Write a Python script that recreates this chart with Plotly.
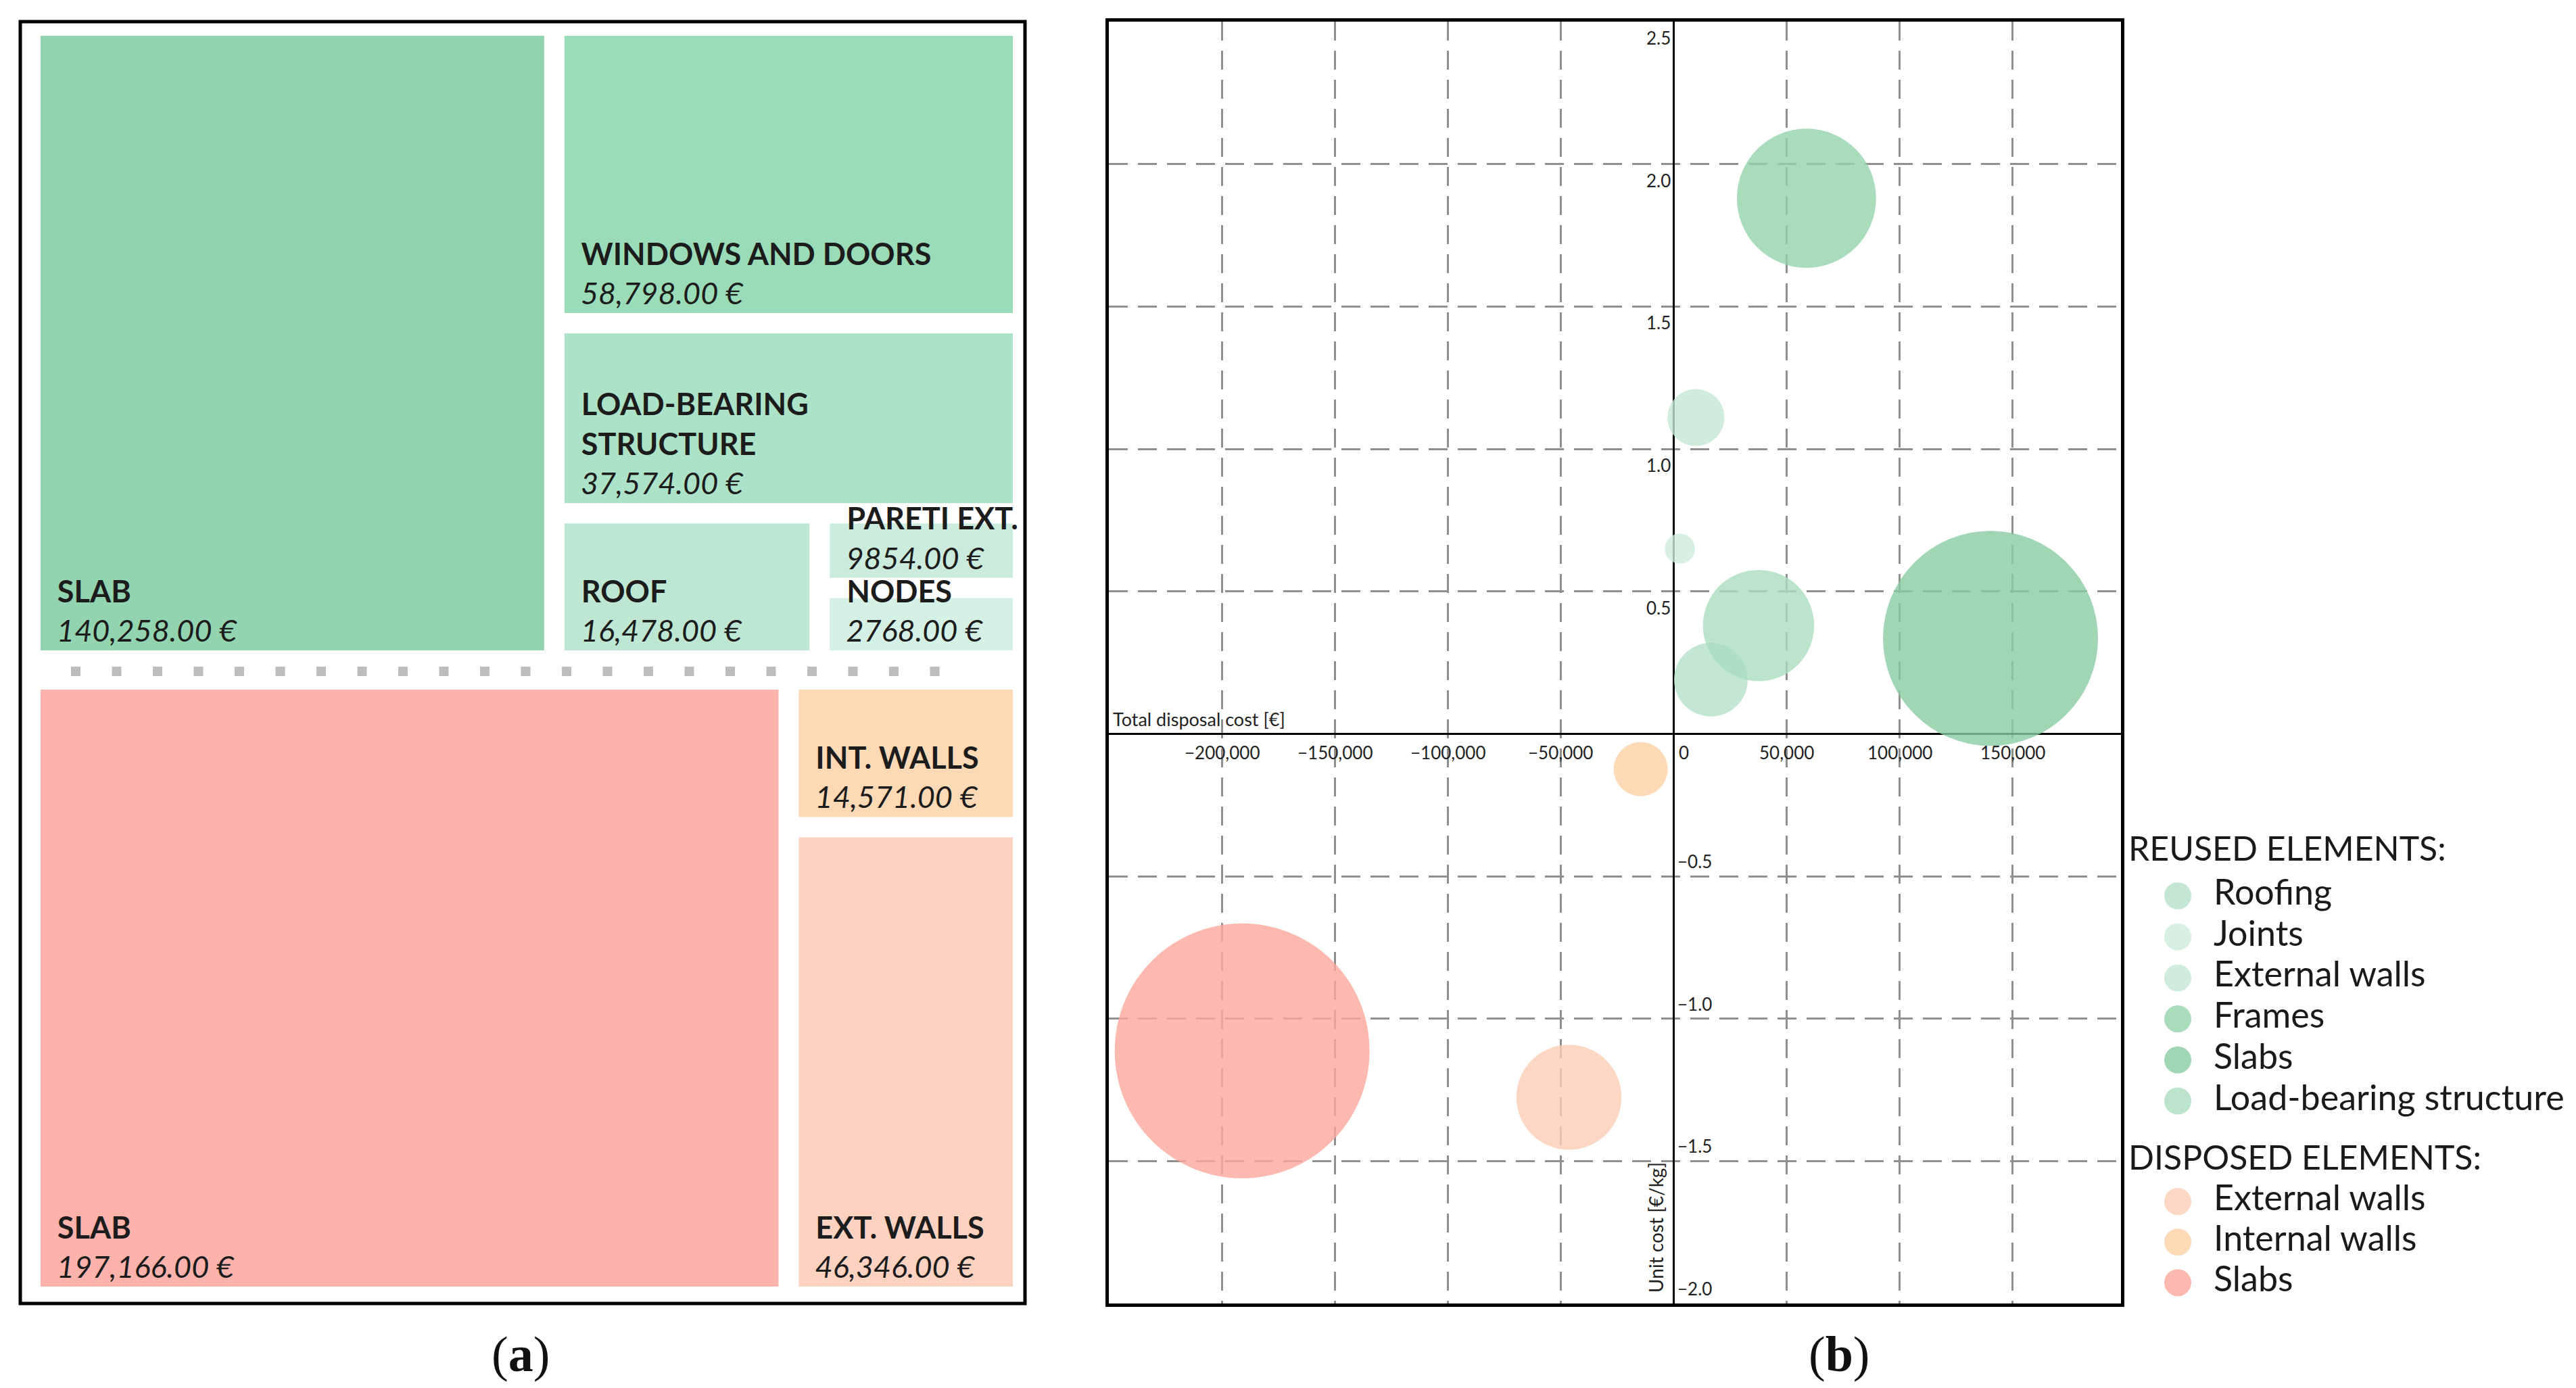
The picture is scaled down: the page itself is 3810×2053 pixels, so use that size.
import plotly.graph_objects as go

W, H = 3810, 2053

# ---- (a) treemap data ----
reused_labels = ['SLAB', 'WINDOWS AND DOORS', 'LOAD-BEARING<br>STRUCTURE', 'ROOF', 'PARETI EXT.', 'NODES']
reused_cost_text = ['140,258.00 €', '58,798.00 €', '37,574.00 €', '16,478.00 €', '9854.00 €', '2768.00 €']
# tile areas (the two smallest tiles are drawn about the same size)
reused_tile_size = [140258, 58798, 37574, 16478, 6400, 6222]

disposed_labels = ['SLAB', 'INT. WALLS', 'EXT. WALLS']
disposed_cost_text = ['197,166.00 €', '14,571.00 €', '46,346.00 €']
disposed_tile_size = [197166, 14571, 46346]

# ---- (b) bubble data ----
reused_names = ['Roofing', 'Joints', 'External walls', 'Frames', 'Slabs', 'Load-bearing structure']
reused_total = [16478, 2768, 9854, 58798, 140258, 37574]
reused_unit = [0.19, 0.65, 1.11, 1.88, 0.335, 0.38]
reused_weight = [16478, 2768, 9854, 58798, 140258, 37574]

disposed_names = ['External walls', 'Internal walls', 'Slabs']
disposed_total = [-46346, -14571, -191000]
disposed_unit = [-1.276, -0.124, -1.113]
disposed_weight = [33500, 8900, 197166]

x_ticks = [-200000, -150000, -100000, -50000, 0, 50000, 100000, 150000]
y_ticks = [2.5, 2.0, 1.5, 1.0, 0.5, -0.5, -1.0, -1.5, -2.0]

# colours
reused_tile_colors = ['#93d4b0', '#9adcb8', '#ace2c7', '#bee7d3', '#cbecdc', '#d5f0e4']
disposed_tile_colors = ['#fdb3ab', '#fed9b6', '#fed2c0']
reused_bubble_colors = ['rgba(181,225,200,0.8)', 'rgba(206,236,219,0.8)', 'rgba(196,231,211,0.8)',
                        'rgba(148,211,170,0.8)', 'rgba(136,204,161,0.8)', 'rgba(170,221,190,0.8)']
disposed_bubble_colors = ['rgba(252,204,181,0.8)', 'rgba(254,209,164,0.8)', 'rgba(253,166,156,0.8)']

LABEL_FONT = 'Lato, Noto Sans, sans-serif'
NONE = 'rgba(0,0,0,0)'
INSET = '\u00a0\u00a0'


def px_x(p):
    return p / W


def px_y(p):
    return 1 - p / H


def tile_text(label, value):
    lines = ['<b>' + INSET + l + '</b>' for l in label.split('<br>')]
    return '<br>'.join(lines) + '<br><i>' + INSET + value + '</i>'


fig = go.Figure()

# treemap split between the two groups
tot_r = sum(reused_tile_size)
tot_d = sum(disposed_tile_size)
top_y, bottom_y, gap = 45, 1895, 58
h_r = (bottom_y - top_y - gap) * tot_r / (tot_r + tot_d)
tm_x = [px_x(52), px_x(1490)]

# reused: slab | (windows / load-bearing / (roof | (pareti / nodes)))
ids_r = ['R', 'R0', 'Ra', 'R1', 'R2', 'Rb', 'R3', 'Rc', 'R4', 'R5']
par_r = ['', 'R', 'R', 'Ra', 'Ra', 'Ra', 'Rb', 'Rb', 'Rc', 'Rc']
leaf_r = {'R0': 0, 'R1': 1, 'R2': 2, 'R3': 3, 'R4': 4, 'R5': 5}
vals_r, txt_r, col_r = [], [], []
for i in ids_r:
    if i in leaf_r:
        k = leaf_r[i]
        vals_r.append(reused_tile_size[k])
        txt_r.append(tile_text(reused_labels[k], reused_cost_text[k]))
        col_r.append(reused_tile_colors[k])
    else:
        vals_r.append(0)
        txt_r.append('')
        col_r.append(NONE)

# disposed: slab | (int. walls / ext. walls)
ids_d = ['D', 'D0', 'Da', 'D1', 'D2']
par_d = ['', 'D', 'D', 'Da', 'Da']
leaf_d = {'D0': 0, 'D1': 1, 'D2': 2}
vals_d, txt_d, col_d = [], [], []
for i in ids_d:
    if i in leaf_d:
        k = leaf_d[i]
        vals_d.append(disposed_tile_size[k])
        txt_d.append(tile_text(disposed_labels[k], disposed_cost_text[k]))
        col_d.append(disposed_tile_colors[k])
    else:
        vals_d.append(0)
        txt_d.append('')
        col_d.append(NONE)

for ids, par, vals, txt, col, dom_y in [
        (ids_r, par_r, vals_r, txt_r, col_r, [px_y(top_y + h_r), px_y(top_y)]),
        (ids_d, par_d, vals_d, txt_d, col_d, [px_y(bottom_y), px_y(top_y + h_r + gap)])]:
    fig.add_trace(go.Treemap(
        ids=ids, labels=ids, parents=par, values=vals, branchvalues='remainder',
        text=txt, texttemplate='%{text}', textposition='bottom left', sort=False,
        marker=dict(colors=col, line=dict(width=0), cornerradius=30,
                    pad=dict(t=0, l=0, r=0, b=0)),
        tiling=dict(packing='slice-dice', pad=30),
        pathbar=dict(visible=False), root=dict(color=NONE),
        textfont=dict(family=LABEL_FONT, size=45, color='#1c1c1c'),
        domain=dict(x=tm_x, y=dom_y), hoverinfo='skip'))

# ---- bubbles ----
MAX_D = 377
sizeref = 2.0 * max(reused_weight + disposed_weight) / MAX_D ** 2
for xs, ys, ws, cols in [(reused_total, reused_unit, reused_weight, reused_bubble_colors),
                         (disposed_total, disposed_unit, disposed_weight, disposed_bubble_colors)]:
    fig.add_trace(go.Scatter(
        x=xs, y=ys, mode='markers', xaxis='x', yaxis='y', showlegend=False, hoverinfo='skip',
        marker=dict(size=ws, sizemode='area', sizeref=sizeref, color=cols, opacity=1,
                    line=dict(width=0))))

# ---- legend (own small axes to the right of the plot, pixel units) ----
leg_rows = []
y = 1252
leg_rows.append(('REUSED ELEMENTS:', None, y, True))
y += 65
for n, c in zip(reused_names, reused_bubble_colors):
    leg_rows.append((n, c, y, False))
    y += 60.7
y += 28
leg_rows.append(('DISPOSED ELEMENTS:', None, y, True))
y += 60
for n, c in zip(disposed_names, disposed_bubble_colors):
    leg_rows.append((n, c, y, False))
    y += 60

LEG_X0 = 3136
items = [r for r in leg_rows if not r[3]]
heads = [r for r in leg_rows if r[3]]
fig.add_trace(go.Scatter(
    x=[3213] * len(items), y=[r[2] for r in items], mode='markers', xaxis='x3', yaxis='y3',
    marker=dict(size=40, color=[r[1] for r in items], line=dict(width=0)),
    showlegend=False, hoverinfo='skip', cliponaxis=False))
fig.add_trace(go.Scatter(
    x=[3266] * len(items), y=[r[2] for r in items], mode='text', text=[r[0] for r in items],
    textposition='middle right', xaxis='x3', yaxis='y3', cliponaxis=False,
    textfont=dict(family=LABEL_FONT, size=52, color='#1a1a1a'),
    showlegend=False, hoverinfo='skip'))
fig.add_trace(go.Scatter(
    x=[3140] * len(heads), y=[r[2] for r in heads], mode='text', text=[r[0] for r in heads],
    textposition='middle right', xaxis='x3', yaxis='y3', cliponaxis=False,
    textfont=dict(family=LABEL_FONT, size=50, color='#1a1a1a'),
    showlegend=False, hoverinfo='skip'))

annotations = []
tick_font = dict(family=LABEL_FONT, size=26, color='#222')
for v in x_ticks:
    lab = '0' if v == 0 else f'{v:,}'.replace('-', '\u2212')
    annotations.append(dict(x=v, y=0, xref='x', yref='y', text=lab, showarrow=False,
                            xanchor='left' if v == 0 else 'center', yanchor='top',
                            xshift=6 if v == 0 else 0, yshift=-10, font=tick_font))
for v in y_ticks:
    lab = f'{v:.1f}'.replace('-', '\u2212')
    if v > 0:
        annotations.append(dict(x=0, y=v, xref='x', yref='y', text=lab, showarrow=False,
                                xanchor='right', yanchor='top', xshift=-2, yshift=-6, font=tick_font))
    else:
        annotations.append(dict(x=0, y=v, xref='x', yref='y', text=lab, showarrow=False,
                                xanchor='left', yanchor='bottom', xshift=4, yshift=4, font=tick_font))

annotations.append(dict(x=px_x(1636), y=0, xref='paper', yref='y', text='Total disposal cost [€]',
                        showarrow=False, xanchor='left', yanchor='bottom', yshift=3,
                        font=dict(family=LABEL_FONT, size=27, color='#222')))
annotations.append(dict(x=0, y=-2.0, xref='x', yref='y', text='Unit cost [€/kg]', textangle=-90,
                        showarrow=False, xanchor='right', yanchor='bottom', xshift=-8, yshift=14,
                        font=dict(family=LABEL_FONT, size=28, color='#222')))
for t, cx in [('(<b>a</b>)', 762), ('(<b>b</b>)', 2712)]:
    annotations.append(dict(x=px_x(cx), y=px_y(1995), xref='paper', yref='paper', text=t,
                            showarrow=False, xanchor='center', yanchor='middle',
                            font=dict(family='Liberation Serif, DejaVu Serif, serif', size=74, color='#111')))

shapes = [
    dict(type='rect', xref='paper', yref='paper', x0=px_x(22), x1=px_x(1508), y0=px_y(1920), y1=px_y(24),
         line=dict(color='black', width=5), layer='above'),
    dict(type='line', xref='paper', yref='paper', x0=px_x(97), x1=px_x(1400), y0=px_y(985), y1=px_y(985),
         line=dict(color='#bdbdbd', width=14, dash='14px,46.5px')),
]

grid = dict(showgrid=True, gridcolor='#8f8f8f', gridwidth=2.5, griddash='28px,15px',
            zeroline=True, zerolinecolor='black', zerolinewidth=3,
            showline=True, mirror=True, linecolor='black', linewidth=5,
            showticklabels=False, ticks='', fixedrange=True)

fig.update_layout(
    width=W, height=H, margin=dict(l=0, r=0, t=0, b=0),
    paper_bgcolor='white', plot_bgcolor='rgba(0,0,0,0)', showlegend=False,
    uniformtext=dict(minsize=45, mode='show'),
    xaxis=dict(domain=[px_x(1632), px_x(3129)], range=[-250000, 198000], dtick=50000, tick0=0,
               anchor='y', **grid),
    yaxis=dict(domain=[px_y(1920), px_y(24)], range=[-2.0, 2.5], dtick=0.5, tick0=0,
               anchor='x', **grid),
    xaxis3=dict(domain=[px_x(LEG_X0), 1], range=[LEG_X0, W], visible=False, anchor='y3', fixedrange=True),
    yaxis3=dict(domain=[0, 1], range=[H, 0], visible=False, anchor='x3', fixedrange=True),
    annotations=annotations, shapes=shapes,
)

fig.write_html('out.html')
